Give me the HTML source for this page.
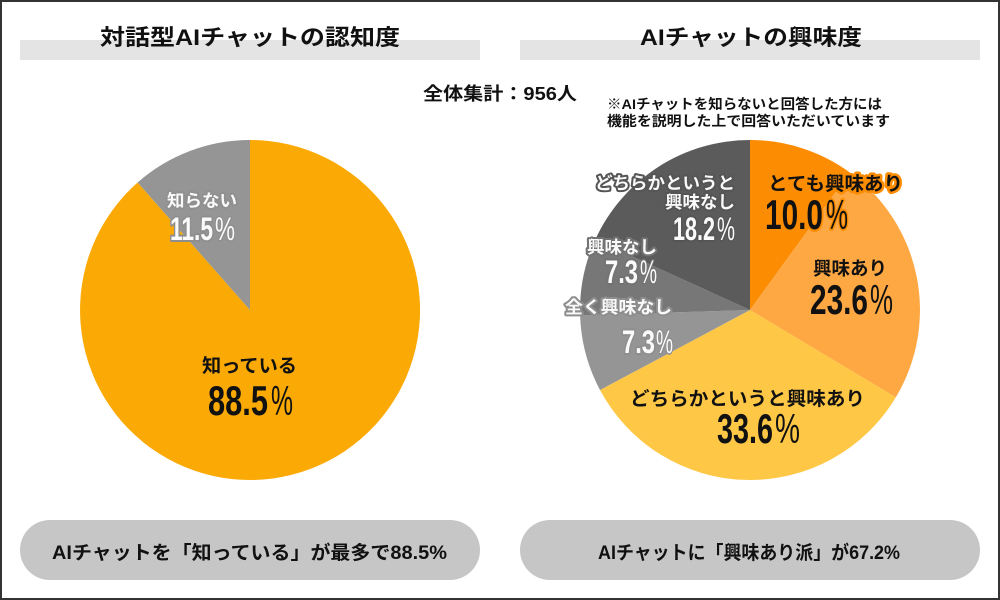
<!DOCTYPE html>
<html>
<head>
<meta charset="utf-8">
<style>
  html, body { margin:0; padding:0; background:#fff; }
  svg { display:block; }
  text { font-family: "Liberation Sans", "Noto Sans CJK JP", sans-serif; font-weight:700; }
  .num { font-family: "Liberation Sans Narrow", "Liberation Sans", "Noto Sans CJK JP", sans-serif; font-weight:700; }
  .pct { font-family: "Liberation Sans", "Noto Sans CJK JP", sans-serif; font-weight:400; }
  .outline { paint-order: stroke fill; stroke-linejoin: round; }
</style>
</head>
<body>
<svg width="1000" height="600" viewBox="0 0 1000 600" xmlns="http://www.w3.org/2000/svg">
  <rect x="0" y="0" width="1000" height="600" fill="#fff"/>
  <rect x="1" y="1" width="998" height="598" fill="none" stroke="#333" stroke-width="2"/>

  <!-- Title bars -->
  <rect x="20" y="40" width="460" height="20" fill="#e4e4e4"/>
  <rect x="520" y="40" width="460" height="20" fill="#e4e4e4"/>
  <text x="250" y="45" font-size="22" text-anchor="middle" fill="#111" textLength="300" lengthAdjust="spacingAndGlyphs">対話型AIチャットの認知度</text>
  <text x="751" y="45" font-size="22" text-anchor="middle" fill="#111" textLength="222" lengthAdjust="spacingAndGlyphs">AIチャットの興味度</text>

  <text x="500" y="100" font-size="18" text-anchor="middle" fill="#111" textLength="154" lengthAdjust="spacingAndGlyphs">全体集計：956人</text>
  <text x="744.5" y="109" font-size="14" text-anchor="middle" fill="#111" textLength="275" lengthAdjust="spacingAndGlyphs">※AIチャットを知らないと回答した方には</text>
  <text x="748.5" y="126" font-size="14" text-anchor="middle" fill="#111" textLength="283" lengthAdjust="spacingAndGlyphs">機能を説明した上で回答いただいています</text>

  <!-- Left pie -->
  <path d="M250,310 L250,140 A170,170 0 1 1 137.6,182.5 Z" fill="#fba905"/>
  <path d="M250,310 L137.6,182.5 A170,170 0 0 1 250,140 Z" fill="#959595"/>

  <text class="outline" x="202" y="206.5" font-size="17" text-anchor="middle" fill="#fafafa" stroke="#909090" stroke-width="4" textLength="70" lengthAdjust="spacingAndGlyphs">知らない</text>
  <text class="num outline" x="170" y="240" font-size="32" fill="#fafafa" stroke="#8e8e8e" stroke-width="4" textLength="43" lengthAdjust="spacingAndGlyphs">11.5</text>
  <text class="pct outline" x="215" y="240" font-size="32" fill="#fafafa" stroke="#8e8e8e" stroke-width="3" textLength="20" lengthAdjust="spacingAndGlyphs">%</text>

  <text x="249.5" y="372" font-size="19" text-anchor="middle" fill="#111" textLength="95" lengthAdjust="spacingAndGlyphs">知っている</text>
  <text class="num" x="208" y="415" font-size="42" fill="#111" textLength="60" lengthAdjust="spacingAndGlyphs">88.5</text>
  <text class="pct" x="271" y="415" font-size="42" fill="#111" textLength="22" lengthAdjust="spacingAndGlyphs">%</text>

  <!-- Right pie -->
  <path d="M750,310 L750,140 A170,170 0 0 1 849.9,172.5 Z" fill="#fc8c02"/>
  <path d="M750,310 L849.9,172.5 A170,170 0 0 1 895.8,397.4 Z" fill="#fda843"/>
  <path d="M750,310 L895.8,397.4 A170,170 0 0 1 600,390 Z" fill="#fec846"/>
  <path d="M750,310 L600,390 A170,170 0 0 1 580.1,315.3 Z" fill="#959595"/>
  <path d="M750,310 L580.1,315.3 A170,170 0 0 1 595.3,239.6 Z" fill="#777777"/>
  <path d="M750,310 L595.3,239.6 A170,170 0 0 1 750,140 Z" fill="#5b5b5b"/>

  <text class="outline" x="835.5" y="190" font-size="19" text-anchor="middle" fill="#111" stroke="#fc8c02" stroke-width="5" textLength="135" lengthAdjust="spacingAndGlyphs">とても興味あり</text>
  <text class="num outline" x="765" y="229" font-size="42" fill="#111" stroke="#fc8c02" stroke-width="5" textLength="58" lengthAdjust="spacingAndGlyphs">10.0</text>
  <text class="pct outline" x="826" y="229" font-size="42" fill="#111" stroke="#fc8c02" stroke-width="4" textLength="22" lengthAdjust="spacingAndGlyphs">%</text>

  <text x="850" y="275" font-size="18.5" text-anchor="middle" fill="#111" textLength="74" lengthAdjust="spacingAndGlyphs">興味あり</text>
  <text class="num" x="810" y="314" font-size="42" fill="#111" textLength="58" lengthAdjust="spacingAndGlyphs">23.6</text>
  <text class="pct" x="870" y="314" font-size="42" fill="#111" textLength="23" lengthAdjust="spacingAndGlyphs">%</text>

  <text x="747.5" y="405" font-size="19" text-anchor="middle" fill="#111" textLength="235" lengthAdjust="spacingAndGlyphs">どちらかというと興味あり</text>
  <text class="num" x="717" y="443" font-size="42" fill="#111" textLength="56" lengthAdjust="spacingAndGlyphs">33.6</text>
  <text class="pct" x="775" y="443" font-size="42" fill="#111" textLength="25" lengthAdjust="spacingAndGlyphs">%</text>

  <text class="outline" x="618.5" y="313" font-size="17" text-anchor="middle" fill="#fafafa" stroke="#8e8e8e" stroke-width="4" textLength="107" lengthAdjust="spacingAndGlyphs">全く興味なし</text>
  <text class="num outline" x="622" y="353" font-size="32" fill="#fafafa" stroke="#8e8e8e" stroke-width="4" textLength="33" lengthAdjust="spacingAndGlyphs">7.3</text>
  <text class="pct outline" x="656" y="353" font-size="32" fill="#fafafa" stroke="#8e8e8e" stroke-width="3" textLength="17" lengthAdjust="spacingAndGlyphs">%</text>

  <text class="outline" x="622" y="253" font-size="17" text-anchor="middle" fill="#fafafa" stroke="#727272" stroke-width="4" textLength="70" lengthAdjust="spacingAndGlyphs">興味なし</text>
  <text class="num outline" x="605" y="283" font-size="32" fill="#fafafa" stroke="#727272" stroke-width="4" textLength="33" lengthAdjust="spacingAndGlyphs">7.3</text>
  <text class="pct outline" x="640" y="283" font-size="32" fill="#fafafa" stroke="#727272" stroke-width="3" textLength="17" lengthAdjust="spacingAndGlyphs">%</text>

  <text class="outline" x="665" y="189" font-size="17" text-anchor="middle" fill="#fafafa" stroke="#555" stroke-width="4" textLength="140" lengthAdjust="spacingAndGlyphs">どちらかというと</text>
  <text class="outline" x="700" y="208" font-size="17" text-anchor="middle" fill="#fafafa" stroke="#555" stroke-width="4" textLength="70" lengthAdjust="spacingAndGlyphs">興味なし</text>
  <text class="num outline" x="673" y="240" font-size="32" fill="#fafafa" stroke="#555" stroke-width="4" textLength="42" lengthAdjust="spacingAndGlyphs">18.2</text>
  <text class="pct outline" x="717" y="240" font-size="32" fill="#fafafa" stroke="#555" stroke-width="3" textLength="18" lengthAdjust="spacingAndGlyphs">%</text>

  <!-- Pills -->
  <rect x="20" y="520" width="460" height="60" rx="30" ry="30" fill="#c6c6c6"/>
  <rect x="520" y="520" width="460" height="60" rx="30" ry="30" fill="#c6c6c6"/>
  <text x="249.5" y="559" font-size="19" text-anchor="middle" fill="#111" textLength="395" lengthAdjust="spacingAndGlyphs">AIチャットを「知っている」が最多で88.5%</text>
  <text x="749" y="559" font-size="19" text-anchor="middle" fill="#111" textLength="302" lengthAdjust="spacingAndGlyphs">AIチャットに「興味あり派」が67.2%</text>
</svg>
</body>
</html>
